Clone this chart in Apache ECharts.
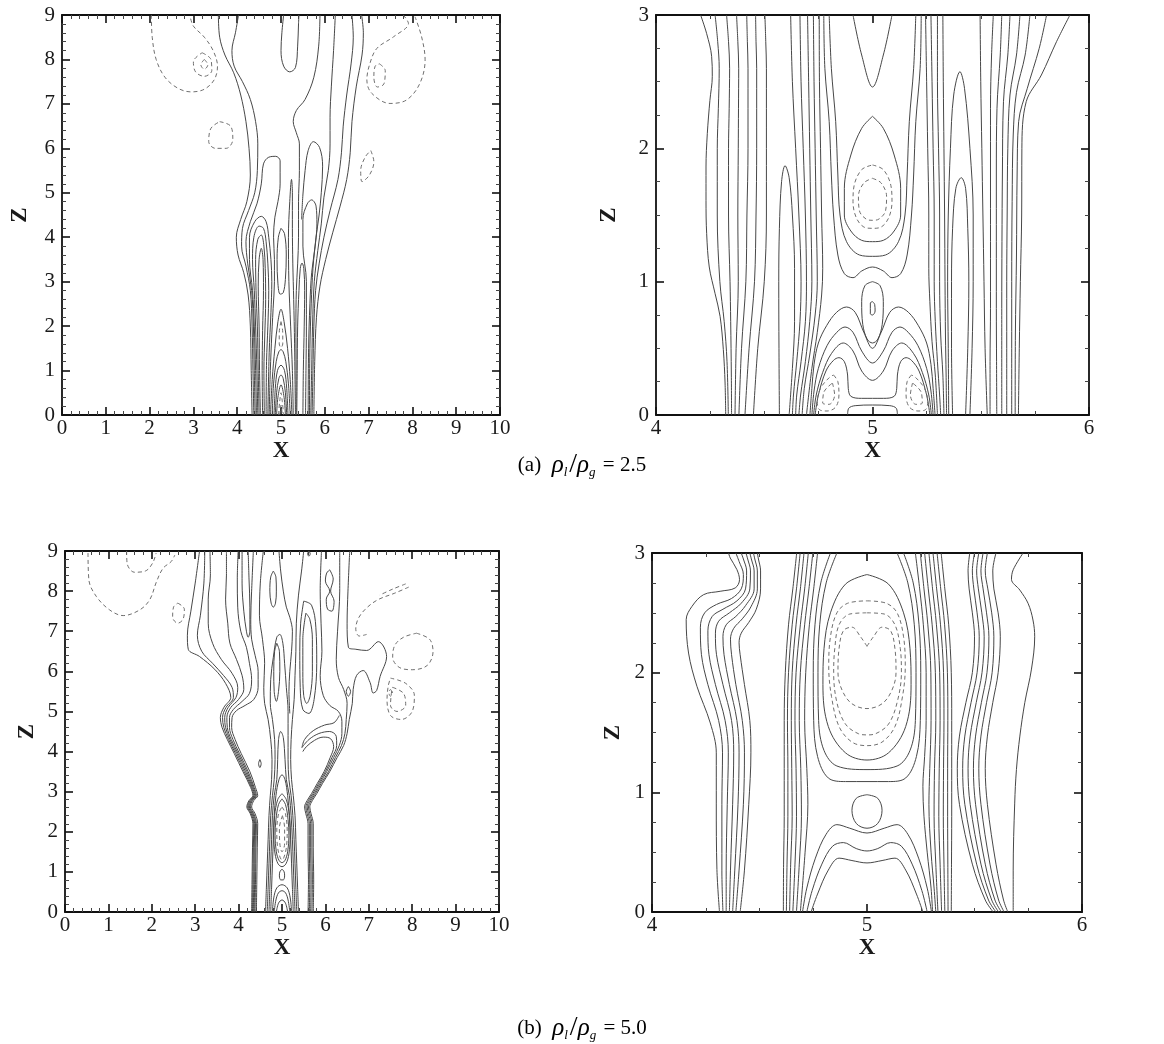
<!DOCTYPE html>
<html><head><meta charset="utf-8">
<script src="https://cdn.jsdelivr.net/npm/echarts@6/dist/echarts.min.js"></script>
<style>html,body{margin:0;padding:0;background:#fff}#c{width:1164px;height:1044px}</style>
</head><body><div id="c"></div>
<script>
// ---------- tick labels ----------
const xTicksWide = [0,1,2,3,4,5,6,7,8,9,10];
const zTicksWide = [0,1,2,3,4,5,6,7,8,9];
const xTicksZoom = [4,5,6];
const zTicksZoom = [0,1,2,3];
const captionA = '2.5';
const captionB = '5.0';

// ---------- panel (a) left : full domain ----------
const p1Solid = [
 [[3.57,9],[3.6,8.5],[3.72,8.1],[3.92,7.7],[4.08,7.2],[4.2,6.6],[4.27,6.0],[4.3,5.4],[4.22,4.8],[4.08,4.4],[3.98,4.0],[4.02,3.6],[4.15,3.2],[4.25,2.7],[4.3,2.0],[4.32,1.0],[4.34,0]],
 [[4.03,9],[3.96,8.6],[3.88,8.2],[3.93,7.85],[4.12,7.5],[4.3,7.1],[4.42,6.6],[4.47,6.1],[4.46,5.5],[4.4,5.0],[4.26,4.6],[4.12,4.2],[4.1,3.8],[4.2,3.35],[4.3,2.8],[4.34,2.0],[4.36,1.0],[4.38,0]],
 [[4.41,0],[4.39,1.0],[4.37,2.0],[4.33,2.8],[4.24,3.4],[4.2,3.9],[4.3,4.35],[4.45,4.75],[4.55,5.2],[4.6,5.65],[4.72,5.8],[4.88,5.82],[4.98,5.72],[4.98,5.2],[4.93,4.8],[4.86,4.45],[4.83,4.0],[4.85,3.5],[4.85,3.0],[4.82,2.4],[4.78,1.6],[4.75,0.8],[4.73,0]],
 [[4.44,0],[4.42,1],[4.39,2],[4.35,2.8],[4.28,3.5],[4.28,4.0],[4.4,4.35],[4.55,4.47],[4.66,4.35],[4.72,4.0],[4.77,3.5],[4.79,3.0],[4.77,2.3],[4.73,1.4],[4.7,0]],
 [[4.47,0],[4.45,1],[4.42,2],[4.39,2.8],[4.35,3.5],[4.38,4.0],[4.5,4.25],[4.6,4.2],[4.66,3.9],[4.7,3.4],[4.72,2.8],[4.7,2.0],[4.67,1.2],[4.66,0]],
 [[4.5,0],[4.48,1],[4.46,2],[4.43,2.8],[4.42,3.5],[4.47,3.95],[4.55,4.05],[4.61,3.8],[4.64,3.3],[4.65,2.6],[4.63,1.8],[4.61,1.0],[4.62,0]],
 [[4.53,0],[4.51,1],[4.5,2],[4.48,2.9],[4.5,3.5],[4.55,3.75],[4.59,3.5],[4.6,2.8],[4.58,1.9],[4.57,1.0],[4.58,0]],
 [[5.0,4.2],[5.08,4.08],[5.12,3.6],[5.1,3.05],[5.05,2.75],[4.98,2.72],[4.93,2.95],[4.91,3.5],[4.94,4.0],[5.0,4.2]],
 [[4.76,0],[4.8,0.8],[4.86,1.5],[4.93,2.1],[5.0,2.38],[5.07,2.1],[5.15,1.5],[5.21,0.8],[5.25,0]],
 [[4.8,0],[4.83,0.7],[4.89,1.2],[4.95,1.42],[5.0,1.47],[5.05,1.42],[5.11,1.2],[5.17,0.7],[5.21,0]],
 [[4.84,0],[4.87,0.6],[4.92,1.0],[5.0,1.12],[5.08,1.0],[5.13,0.6],[5.16,0]],
 [[4.87,0],[4.9,0.5],[4.95,0.82],[5.0,0.9],[5.05,0.82],[5.1,0.5],[5.13,0]],
 [[4.9,0],[4.93,0.4],[5.0,0.68],[5.07,0.4],[5.1,0]],
 [[5.28,0],[5.26,1.0],[5.22,2.0],[5.18,3.0],[5.17,4.0],[5.2,4.8],[5.24,5.3],[5.26,5.0],[5.26,4.2],[5.27,3.4],[5.29,2.6],[5.31,1.6],[5.32,0.8],[5.33,0]],
 [[5.36,0],[5.37,1],[5.38,2],[5.41,2.8],[5.44,3.3],[5.48,3.42],[5.52,3.3],[5.54,2.8],[5.53,2.0],[5.51,1.0],[5.5,0]],
 [[5.56,0],[5.57,1],[5.58,2],[5.58,3.0],[5.5,3.8],[5.5,4.4],[5.6,4.75],[5.7,4.84],[5.8,4.7],[5.82,4.3],[5.78,3.8],[5.7,3.2],[5.66,2.5],[5.63,1.5],[5.62,0]],
 [[5.345,0],[5.345,1],[5.34,2],[5.35,2.8],[5.38,3.4],[5.4,4.0],[5.4,4.8],[5.42,5.5],[5.42,6.1],[5.35,6.35],[5.28,6.6],[5.35,6.85],[5.55,7.1],[5.75,7.6],[5.86,8.3],[5.89,9]],
 [[5.47,4.4],[5.5,4.95],[5.55,5.5],[5.62,5.95],[5.74,6.15],[5.88,6.02],[5.95,5.6],[5.92,5.0],[5.87,4.5],[5.8,4.0],[5.73,3.3],[5.69,2.5],[5.66,1.5],[5.65,0]],
 [[6.24,9],[6.2,8.2],[6.15,7.4],[6.12,6.7],[6.12,6.1],[6.08,5.5],[5.98,4.9],[5.92,4.3],[5.84,3.7],[5.76,3.0],[5.72,2.0],[5.7,1.0],[5.68,0]],
 [[6.62,9],[6.65,8.5],[6.6,7.9],[6.5,7.2],[6.42,6.5],[6.38,5.9],[6.3,5.3],[6.12,4.6],[5.98,4.0],[5.87,3.4],[5.79,2.8],[5.75,2.0],[5.73,1.0],[5.71,0]],
 [[6.84,9],[6.88,8.6],[6.85,8.1],[6.72,7.4],[6.62,6.6],[6.58,5.9],[6.5,5.3],[6.35,4.7],[6.18,4.1],[6.02,3.5],[5.89,2.9],[5.81,2.2],[5.77,1.2],[5.75,0]],
 [[5.06,9],[5.02,8.6],[5.0,8.2],[5.06,7.85],[5.2,7.72],[5.33,7.82],[5.38,8.3],[5.4,8.8],[5.41,9]]
];
const p1Dashed = [
 [[2.04,9],[2.06,8.5],[2.15,8.0],[2.35,7.6],[2.65,7.35],[2.95,7.27],[3.25,7.33],[3.48,7.55],[3.55,7.85],[3.45,8.2],[3.25,8.5],[3.0,8.75],[2.93,8.95]],
 [[3.2,8.15],[3.4,8.0],[3.42,7.75],[3.25,7.62],[3.05,7.72],[3.0,7.95],[3.2,8.15]],
 [[3.25,8.0],[3.33,7.88],[3.25,7.78],[3.17,7.88],[3.25,8.0]],
 [[3.6,6.6],[3.85,6.5],[3.9,6.2],[3.75,6.0],[3.5,6.0],[3.35,6.15],[3.4,6.45],[3.6,6.6]],
 [[7.79,9],[7.91,8.81],[7.57,8.51],[7.19,8.25],[7.03,7.91],[6.96,7.54],[7.07,7.24],[7.49,7.01],[7.87,7.09],[8.17,7.46],[8.29,7.99],[8.21,8.51],[8.06,8.96]],
 [[7.25,7.9],[7.38,7.75],[7.35,7.45],[7.2,7.38],[7.12,7.6],[7.15,7.85],[7.25,7.9]],
 [[7.05,5.95],[7.12,5.7],[7.02,5.4],[6.85,5.25],[6.82,5.5],[6.92,5.8],[7.05,5.95]],
 [[5.0,2.1],[5.04,1.85],[5.04,1.6],[5.0,1.52],[4.96,1.6],[4.96,1.85],[5.0,2.1]],
 [[4.94,0],[4.97,0.3],[5.0,0.5],[5.03,0.3],[5.06,0]],
 [[4.97,0],[5.0,0.22],[5.03,0]]
];

// ---------- panel (a) right : zoom 4..6, 0..3 ----------
const p2Solid = [
 [[4.206,3],[4.234,2.86],[4.257,2.69],[4.26,2.54],[4.249,2.36],[4.237,2.11],[4.231,1.86],[4.231,1.61],[4.234,1.36],[4.246,1.11],[4.273,0.91],[4.296,0.74],[4.311,0.49],[4.319,0.24],[4.322,0]],
 [[4.273,3],[4.285,2.8],[4.292,2.6],[4.288,2.3],[4.283,2.0],[4.283,1.5],[4.295,1.0],[4.315,0.7],[4.328,0.4],[4.334,0]],
 [[4.326,3],[4.335,2.8],[4.34,2.6],[4.338,2.3],[4.335,2.0],[4.335,1.5],[4.342,1.0],[4.345,0.7],[4.348,0.3],[4.349,0]],
 [[4.372,3],[4.378,2.8],[4.382,2.6],[4.381,2.3],[4.38,2.0],[4.378,1.5],[4.38,1.0],[4.37,0.5],[4.365,0]],
 [[4.419,3],[4.422,2.8],[4.425,2.6],[4.425,2.0],[4.42,1.5],[4.415,1.0],[4.395,0.5],[4.383,0]],
 [[4.46,3],[4.462,2.8],[4.465,2.6],[4.465,2.0],[4.462,1.5],[4.455,1.0],[4.43,0.5],[4.411,0]],
 [[4.503,3],[4.507,2.8],[4.51,2.6],[4.51,2.0],[4.51,1.5],[4.5,1.0],[4.47,0.5],[4.45,0]],
 [[4.57,0],[4.568,0.5],[4.567,1.0],[4.57,1.4],[4.58,1.75],[4.596,1.87],[4.615,1.78],[4.63,1.5],[4.64,1.1],[4.64,0.7],[4.63,0.35],[4.615,0]],
 [[4.622,3],[4.63,2.5],[4.645,2.0],[4.66,1.5],[4.67,1.0],[4.665,0.7],[4.65,0.4],[4.635,0.15],[4.63,0]],
 [[4.665,3],[4.67,2.5],[4.68,2.0],[4.69,1.5],[4.695,1.0],[4.69,0.7],[4.67,0.4],[4.65,0.15],[4.645,0]],
 [[4.70,3],[4.705,2.5],[4.71,2.0],[4.715,1.5],[4.72,1.0],[4.71,0.7],[4.69,0.4],[4.668,0.15],[4.66,0]],
 [[4.727,3],[4.73,2.5],[4.735,2.0],[4.74,1.5],[4.745,1.0],[4.735,0.75],[4.71,0.45],[4.685,0.2],[4.675,0]],
 [[4.754,3],[4.755,2.5],[4.76,2.0],[4.765,1.5],[4.77,1.1],[4.765,0.9],[4.745,0.62],[4.72,0.35],[4.695,0]],
 [[4.91,3],[4.95,2.7],[5.0,2.46],[5.05,2.7],[5.09,3]],
 [[5.0,2.24],[5.05,2.15],[5.1,1.95],[5.13,1.7],[5.13,1.5],[5.1,1.38],[5.05,1.31],[5.0,1.3],[4.95,1.31],[4.9,1.38],[4.87,1.5],[4.87,1.7],[4.9,1.95],[4.95,2.15],[5.0,2.24]],
 [[4.8,3],[4.81,2.6],[4.83,2.2],[4.84,1.8],[4.85,1.5],[4.88,1.3],[4.94,1.2],[5.0,1.19],[5.06,1.2],[5.12,1.3],[5.15,1.5],[5.16,1.8],[5.17,2.2],[5.19,2.6],[5.2,3]],
 [[4.775,3],[4.78,2.6],[4.8,2.2],[4.81,1.8],[4.82,1.5],[4.84,1.2],[4.87,1.06],[4.91,1.03],[4.95,1.08],[5.0,1.11],[5.05,1.08],[5.09,1.03],[5.13,1.06],[5.16,1.2],[5.18,1.5],[5.19,1.8],[5.2,2.2],[5.22,2.6],[5.225,3]],
 [[5.0,1.0],[5.035,0.97],[5.05,0.85],[5.045,0.68],[5.025,0.57],[5.0,0.54],[4.975,0.57],[4.955,0.68],[4.95,0.85],[4.965,0.97],[5.0,1.0]],
 [[5.0,0.85],[5.01,0.83],[5.012,0.78],[5.0,0.75],[4.99,0.76],[4.99,0.84],[5.0,0.85]],
 [[4.711,0],[4.72,0.2],[4.73,0.38],[4.75,0.54],[4.788,0.67],[4.834,0.77],[4.88,0.81],[4.92,0.77],[4.96,0.62],[5.0,0.5],[5.04,0.62],[5.08,0.77],[5.12,0.81],[5.166,0.77],[5.212,0.67],[5.25,0.54],[5.27,0.38],[5.28,0.2],[5.289,0]],
 [[4.72,0],[4.73,0.18],[4.75,0.35],[4.79,0.52],[4.835,0.62],[4.873,0.66],[4.91,0.62],[4.95,0.48],[5.0,0.39],[5.05,0.48],[5.09,0.62],[5.127,0.66],[5.165,0.62],[5.21,0.52],[5.25,0.35],[5.27,0.18],[5.28,0]],
 [[4.728,0],[4.74,0.15],[4.77,0.32],[4.81,0.46],[4.865,0.54],[4.91,0.48],[4.95,0.33],[5.0,0.26],[5.05,0.33],[5.09,0.48],[5.135,0.54],[5.19,0.46],[5.23,0.32],[5.26,0.15],[5.272,0]],
 [[4.735,0],[4.75,0.15],[4.785,0.33],[4.82,0.41],[4.845,0.43],[4.87,0.4],[4.885,0.3],[4.888,0.2],[4.9,0.14],[4.95,0.125],[5.0,0.125],[5.05,0.125],[5.1,0.14],[5.112,0.2],[5.115,0.3],[5.13,0.4],[5.155,0.43],[5.18,0.41],[5.215,0.33],[5.25,0.15],[5.265,0]],
 [[4.885,0],[4.89,0.05],[4.92,0.07],[5.0,0.075],[5.08,0.07],[5.11,0.05],[5.115,0]],
 [[5.245,3],[5.25,2.5],[5.255,2.0],[5.26,1.5],[5.26,1.1],[5.265,0.85],[5.275,0.55],[5.29,0.3],[5.3,0]],
 [[5.27,3],[5.275,2.5],[5.28,2.0],[5.285,1.5],[5.285,1.0],[5.29,0.7],[5.3,0.4],[5.31,0.15],[5.315,0]],
 [[5.3,3],[5.3,2.5],[5.305,2.0],[5.31,1.5],[5.31,1.0],[5.315,0.6],[5.325,0.3],[5.33,0]],
 [[5.325,3],[5.327,2.5],[5.33,2.0],[5.333,1.5],[5.335,1.0],[5.337,0.6],[5.34,0.3],[5.342,0]],
 [[5.37,0],[5.365,0.5],[5.365,1.0],[5.37,1.4],[5.385,1.7],[5.41,1.78],[5.43,1.7],[5.44,1.4],[5.445,1.0],[5.44,0.5],[5.43,0]],
 [[5.352,0],[5.35,0.5],[5.347,1.0],[5.35,1.5],[5.36,2.0],[5.375,2.4],[5.404,2.575],[5.425,2.45],[5.45,2.0],[5.465,1.5],[5.465,1.0],[5.46,0.5],[5.45,0]],
 [[5.497,3],[5.5,2.5],[5.505,2.0],[5.51,1.5],[5.515,1.0],[5.52,0.5],[5.53,0]],
 [[5.558,3],[5.55,2.7],[5.545,2.3],[5.545,1.8],[5.545,1.3],[5.545,0.8],[5.543,0.4],[5.543,0]],
 [[5.597,3],[5.59,2.7],[5.575,2.3],[5.572,1.8],[5.572,1.3],[5.572,0.8],[5.573,0.4],[5.574,0]],
 [[5.635,3],[5.625,2.7],[5.605,2.35],[5.6,1.8],[5.598,1.3],[5.597,0.8],[5.597,0]],
 [[5.681,3],[5.665,2.7],[5.635,2.4],[5.625,2.0],[5.622,1.5],[5.62,1.0],[5.62,0.5],[5.62,0]],
 [[5.727,3],[5.705,2.7],[5.665,2.42],[5.65,2.1],[5.645,1.6],[5.643,1.0],[5.643,0.5],[5.643,0]],
 [[5.804,3],[5.77,2.75],[5.715,2.45],[5.675,2.2],[5.668,1.8],[5.665,1.2],[5.66,0.6],[5.659,0]],
 [[5.912,3],[5.85,2.8],[5.78,2.55],[5.71,2.35],[5.69,2.0],[5.689,1.5],[5.683,1.0],[5.678,0.5],[5.674,0]]
];
const p2Dashed = [
 [[5.0,1.875],[5.05,1.84],[5.085,1.72],[5.09,1.6],[5.075,1.48],[5.04,1.41],[5.0,1.4],[4.96,1.41],[4.925,1.48],[4.91,1.6],[4.915,1.72],[4.95,1.84],[5.0,1.875]],
 [[5.0,1.775],[5.04,1.74],[5.065,1.64],[5.06,1.53],[5.03,1.47],[5.0,1.46],[4.97,1.47],[4.94,1.53],[4.935,1.64],[4.96,1.74],[5.0,1.775]],
 [[4.82,0.3],[4.84,0.25],[4.845,0.15],[4.83,0.06],[4.79,0.03],[4.755,0.04],[4.745,0.1],[4.76,0.2],[4.8,0.28],[4.82,0.3]],
 [[4.815,0.24],[4.825,0.15],[4.8,0.08],[4.77,0.09],[4.775,0.17],[4.815,0.24]],
 [[5.18,0.3],[5.16,0.25],[5.155,0.15],[5.17,0.06],[5.21,0.03],[5.245,0.04],[5.255,0.1],[5.24,0.2],[5.2,0.28],[5.18,0.3]],
 [[5.185,0.24],[5.175,0.15],[5.2,0.08],[5.23,0.09],[5.225,0.17],[5.185,0.24]]
];

// ---------- panel (b) left : full domain ----------
const p3Solid = [
 [[4.3,0],[4.31,0.8],[4.32,1.6],[4.33,2.2],[4.27,2.45],[4.19,2.62],[4.24,2.78],[4.33,2.9],[4.28,3.1],[4.1,3.5],[3.9,3.95],[3.74,4.3],[3.62,4.6],[3.58,4.85],[3.66,5.1],[3.82,5.35],[3.7,5.7],[3.45,6.05],[3.1,6.37],[2.84,6.55],[2.82,6.9],[2.9,7.5],[3.0,8.2],[3.1,9]],
 [[4.32,0],[4.33,0.8],[4.34,1.6],[4.35,2.2],[4.29,2.45],[4.21,2.62],[4.26,2.78],[4.35,2.9],[4.3,3.1],[4.13,3.5],[3.93,3.95],[3.77,4.3],[3.66,4.6],[3.63,4.85],[3.71,5.1],[3.88,5.35],[3.85,5.6],[3.65,5.9],[3.4,6.2],[3.15,6.5],[3.05,6.9],[3.12,7.4],[3.2,8.2],[3.22,9]],
 [[4.34,0],[4.35,0.8],[4.36,1.6],[4.37,2.2],[4.31,2.45],[4.23,2.62],[4.28,2.78],[4.37,2.9],[4.32,3.1],[4.16,3.5],[3.96,3.95],[3.8,4.3],[3.7,4.6],[3.68,4.85],[3.76,5.1],[3.94,5.35],[3.98,5.6],[3.85,5.95],[3.6,6.3],[3.4,6.7],[3.3,7.2],[3.3,7.8],[3.35,8.4],[3.34,9]],
 [[4.36,0],[4.37,0.8],[4.38,1.6],[4.39,2.2],[4.33,2.45],[4.25,2.62],[4.3,2.78],[4.39,2.9],[4.34,3.1],[4.19,3.5],[3.99,3.95],[3.83,4.3],[3.74,4.6],[3.73,4.85],[3.82,5.1],[4.0,5.3],[4.12,5.55],[4.08,5.9],[3.95,6.3],[3.8,6.7],[3.75,7.2],[3.7,7.8],[3.72,8.4],[3.72,9]],
 [[4.38,0],[4.39,0.8],[4.4,1.6],[4.41,2.2],[4.35,2.45],[4.27,2.62],[4.32,2.78],[4.41,2.9],[4.36,3.1],[4.22,3.5],[4.02,3.95],[3.87,4.3],[3.79,4.6],[3.79,4.85],[3.88,5.05],[4.08,5.25],[4.25,5.45],[4.3,5.8],[4.25,6.2],[4.18,6.6],[4.05,7.0],[3.98,7.6],[3.97,8.3],[3.99,9]],
 [[4.41,0],[4.42,0.8],[4.43,1.6],[4.44,2.2],[4.38,2.45],[4.3,2.62],[4.35,2.78],[4.44,2.9],[4.39,3.1],[4.26,3.5],[4.06,3.95],[3.92,4.3],[3.84,4.6],[3.85,4.85],[3.95,5.02],[4.15,5.15],[4.35,5.3],[4.45,5.6],[4.45,6.0],[4.38,6.4],[4.3,6.8],[4.28,7.3],[4.3,8.0],[4.34,9]],
 [[4.08,9],[4.08,8.2],[4.12,7.5],[4.18,7.0],[4.22,6.85],[4.26,7.0],[4.26,7.6],[4.24,8.3],[4.22,9]],
 [[4.62,0],[4.64,0.6],[4.66,1.2],[4.68,1.8],[4.7,2.4],[4.73,2.9],[4.76,3.3],[4.77,3.8],[4.74,4.3],[4.68,4.8],[4.6,5.2],[4.58,5.6],[4.6,6.2],[4.55,6.8],[4.48,7.4],[4.5,8.2],[4.57,9]],
 [[4.66,0],[4.68,0.6],[4.7,1.2],[4.72,1.8],[4.74,2.4],[4.78,2.9],[4.82,3.3],[4.84,3.8],[4.83,4.3],[4.78,4.8],[4.73,5.2],[4.74,5.8],[4.8,6.35],[4.88,6.85],[4.95,6.92],[5.02,6.7],[5.06,6.2],[5.1,5.6],[5.14,5.0],[5.14,4.4],[5.14,3.8],[5.16,3.3],[5.21,2.9],[5.25,2.4],[5.28,1.8],[5.3,1.2],[5.32,0.6],[5.34,0]],
 [[4.7,0],[4.72,0.6],[4.74,1.2],[4.76,1.8],[4.78,2.4],[4.82,2.9],[4.88,3.3],[4.9,3.8],[4.92,4.3],[4.97,4.5],[5.03,4.35],[5.07,3.8],[5.1,3.3],[5.17,2.9],[5.21,2.4],[5.24,1.8],[5.26,1.2],[5.28,0.6],[5.3,0]],
 [[4.74,0],[4.76,0.6],[4.78,1.2],[4.8,1.8],[4.82,2.4],[4.86,2.9],[4.93,3.3],[5.0,3.42],[5.07,3.3],[5.13,2.9],[5.17,2.4],[5.2,1.8],[5.22,1.2],[5.24,0.6],[5.26,0]],
 [[5.0,2.95],[5.1,2.8],[5.17,2.4],[5.19,1.9],[5.16,1.45],[5.09,1.2],[5.0,1.13],[4.91,1.2],[4.84,1.45],[4.81,1.9],[4.83,2.4],[4.9,2.8],[5.0,2.95]],
 [[5.0,2.82],[5.08,2.68],[5.14,2.3],[5.16,1.9],[5.13,1.5],[5.07,1.29],[5.0,1.23],[4.93,1.29],[4.87,1.5],[4.84,1.9],[4.86,2.3],[4.92,2.68],[5.0,2.82]],
 [[5.0,1.07],[5.05,1.0],[5.06,0.9],[5.03,0.8],[4.97,0.8],[4.94,0.9],[4.95,1.0],[5.0,1.07]],
 [[4.78,0],[4.81,0.35],[4.88,0.6],[5.0,0.68],[5.12,0.6],[5.19,0.35],[5.22,0]],
 [[4.82,0],[4.86,0.3],[4.92,0.48],[5.0,0.53],[5.08,0.48],[5.14,0.3],[5.18,0]],
 [[4.87,0],[4.92,0.22],[5.0,0.3],[5.08,0.22],[5.13,0]],
 [[5.38,0],[5.36,0.6],[5.34,1.2],[5.32,1.8],[5.3,2.4],[5.26,2.9],[5.22,3.3],[5.2,3.8],[5.21,4.3],[5.24,4.8],[5.28,5.3],[5.3,5.9],[5.32,6.5],[5.33,7.2],[5.38,7.9],[5.45,8.5],[5.5,9]],
 [[4.88,6.7],[4.94,6.5],[4.95,6.0],[4.92,5.5],[4.87,5.25],[4.82,5.5],[4.81,6.0],[4.83,6.5],[4.88,6.7]],
 [[4.8,8.5],[4.86,8.35],[4.87,8.0],[4.85,7.7],[4.8,7.6],[4.75,7.7],[4.72,8.0],[4.74,8.35],[4.8,8.5]],
 [[4.93,9],[4.97,8.5],[5.03,8.0],[5.1,7.6],[5.18,7.35],[5.24,7.0],[5.22,6.5],[5.18,6.0],[5.16,5.5],[5.18,4.95]],
 [[5.5,7.75],[5.68,7.65],[5.78,7.1],[5.8,6.2],[5.74,5.3],[5.62,4.95],[5.48,5.05],[5.42,5.6],[5.41,6.5],[5.43,7.2],[5.5,7.75]],
 [[5.55,7.45],[5.64,7.3],[5.7,6.8],[5.7,6.0],[5.65,5.4],[5.57,5.2],[5.5,5.4],[5.48,6.0],[5.48,6.8],[5.55,7.45]],
 [[6.1,8.53],[6.18,8.3],[6.12,8.0],[6.2,7.75],[6.15,7.5],[6.05,7.55],[6.02,7.8],[6.1,8.0],[6.0,8.25],[6.03,8.45],[6.1,8.53]],
 [[6.53,5.62],[6.58,5.5],[6.53,5.38],[6.48,5.5],[6.53,5.62]],
 [[4.49,3.8],[4.52,3.7],[4.49,3.6],[4.46,3.7],[4.49,3.8]],
 [[5.62,9],[5.65,8.93],[5.62,8.87],[5.59,8.93],[5.62,9]],
 [[5.72,0],[5.73,0.8],[5.72,1.6],[5.72,2.2],[5.67,2.45],[5.64,2.62],[5.7,2.78],[5.8,2.95],[5.93,3.2],[6.1,3.5],[6.27,3.85],[6.42,4.15],[6.5,4.45],[6.55,4.8],[6.62,5.2],[6.64,5.55],[6.72,5.9],[6.87,6.02],[7.03,5.72],[7.1,5.46],[7.18,5.52],[7.26,5.87],[7.41,6.37],[7.22,6.74],[6.95,6.52],[6.7,6.55],[6.53,6.6],[6.5,7.2],[6.52,8.0],[6.56,9]],
 [[5.69,0],[5.7,0.8],[5.69,1.6],[5.69,2.2],[5.64,2.45],[5.61,2.62],[5.67,2.78],[5.77,2.95],[5.9,3.2],[6.07,3.5],[6.23,3.85],[6.37,4.15],[6.45,4.45],[6.48,4.8],[6.5,5.2],[6.42,5.55],[6.3,5.85],[6.25,6.3],[6.28,7.0],[6.33,8.0],[6.33,9]],
 [[5.66,0],[5.67,0.8],[5.66,1.6],[5.66,2.2],[5.61,2.45],[5.58,2.62],[5.64,2.78],[5.74,2.95],[5.87,3.2],[6.03,3.5],[6.19,3.85],[6.32,4.15],[6.38,4.45],[6.38,4.75],[6.3,5.0],[6.1,5.15],[5.95,5.4],[5.88,5.9],[5.92,6.5],[5.9,7.2],[5.88,8.0],[5.91,9]],
 [[5.63,0],[5.64,0.8],[5.63,1.6],[5.63,2.2],[5.58,2.45],[5.55,2.62],[5.61,2.78],[5.71,2.95],[5.84,3.2],[6.0,3.5],[6.15,3.85],[6.26,4.15],[6.25,4.38],[6.1,4.5],[5.85,4.45],[5.62,4.3],[5.46,4.1],[5.52,4.3],[5.72,4.52],[5.98,4.66],[6.2,4.72],[6.32,4.9]],
 [[5.6,0],[5.61,0.8],[5.6,1.6],[5.6,2.2],[5.55,2.45],[5.52,2.62],[5.58,2.78],[5.68,2.95],[5.81,3.2],[5.97,3.5],[6.11,3.85],[6.19,4.12],[6.12,4.32],[5.95,4.36],[5.75,4.28],[5.56,4.12],[5.48,4.0]]
];
const p3Dashed = [
 [[0.53,8.95],[0.55,8.28],[0.72,7.87],[1.03,7.53],[1.34,7.39],[1.72,7.53],[1.95,7.78],[2.11,8.24],[2.26,8.57],[2.45,8.74],[2.53,8.9]],
 [[1.42,9],[1.43,8.7],[1.6,8.47],[1.85,8.5],[2.02,8.7],[2.1,8.95]],
 [[2.6,7.7],[2.75,7.55],[2.72,7.3],[2.6,7.2],[2.48,7.35],[2.5,7.6],[2.6,7.7]],
 [[7.92,8.1],[7.6,7.95],[7.2,7.78],[6.92,7.55],[6.75,7.3],[6.7,7.05],[6.78,6.88],[6.95,6.92]],
 [[7.85,8.18],[7.55,8.05],[7.25,7.9]],
 [[8.1,6.95],[8.4,6.8],[8.48,6.5],[8.35,6.15],[8.0,6.04],[7.7,6.1],[7.55,6.35],[7.6,6.65],[7.8,6.85],[8.1,6.95]],
 [[7.5,5.83],[7.85,5.7],[8.05,5.4],[8.0,5.0],[7.75,4.8],[7.5,4.9],[7.42,5.3],[7.45,5.65],[7.5,5.83]],
 [[7.55,5.6],[7.8,5.45],[7.85,5.15],[7.65,5.0],[7.5,5.15],[7.52,5.45],[7.55,5.6]],
 [[7.5,5.55],[7.55,5.45],[7.5,5.38],[7.46,5.48],[7.5,5.55]],
 [[5.0,2.62],[5.08,2.45],[5.12,2.0],[5.1,1.6],[5.04,1.35],[5.0,1.3],[4.96,1.35],[4.9,1.6],[4.88,2.0],[4.92,2.45],[5.0,2.62]],
 [[5.01,2.4],[5.06,2.1],[5.06,1.7],[5.0,1.5],[4.95,1.7],[4.94,2.1],[5.01,2.4]]
];

// ---------- panel (b) right : zoom ----------
const p4Solid = [
 [[4.314,0],[4.302,0.354],[4.299,0.91],[4.299,1.33],[4.271,1.58],[4.209,1.886],[4.17,2.164],[4.159,2.443],[4.186,2.554],[4.24,2.652],[4.317,2.68],[4.387,2.708],[4.407,2.777],[4.395,2.861],[4.364,2.958],[4.356,3]],
 [[4.33,0],[4.325,0.35],[4.325,0.9],[4.328,1.33],[4.31,1.6],[4.26,1.9],[4.23,2.15],[4.225,2.38],[4.245,2.5],[4.3,2.57],[4.37,2.62],[4.415,2.7],[4.425,2.82],[4.405,2.93],[4.39,3]],
 [[4.345,0],[4.345,0.35],[4.35,0.9],[4.355,1.33],[4.34,1.6],[4.295,1.9],[4.265,2.15],[4.26,2.35],[4.28,2.47],[4.33,2.53],[4.395,2.6],[4.435,2.7],[4.44,2.85],[4.425,2.95],[4.415,3]],
 [[4.36,0],[4.365,0.35],[4.375,0.9],[4.38,1.33],[4.37,1.6],[4.33,1.9],[4.3,2.15],[4.295,2.33],[4.31,2.43],[4.36,2.5],[4.415,2.58],[4.455,2.7],[4.458,2.85],[4.445,2.95],[4.437,3]],
 [[4.375,0],[4.385,0.35],[4.4,0.9],[4.405,1.33],[4.395,1.6],[4.36,1.9],[4.335,2.15],[4.33,2.3],[4.345,2.4],[4.39,2.47],[4.435,2.56],[4.475,2.7],[4.475,2.85],[4.462,2.95],[4.455,3]],
 [[4.39,0],[4.405,0.35],[4.425,0.9],[4.43,1.33],[4.42,1.6],[4.39,1.9],[4.37,2.15],[4.365,2.28],[4.38,2.37],[4.42,2.45],[4.46,2.55],[4.49,2.7],[4.49,2.85],[4.478,2.95],[4.472,3]],
 [[4.41,0],[4.43,0.35],[4.45,0.9],[4.46,1.33],[4.455,1.6],[4.43,1.9],[4.41,2.15],[4.405,2.25],[4.415,2.33],[4.45,2.42],[4.485,2.53],[4.505,2.7],[4.505,2.85],[4.495,2.95],[4.49,3]],
 [[4.673,3],[4.655,2.7],[4.635,2.4],[4.62,2.0],[4.615,1.6],[4.615,1.2],[4.615,0.8],[4.612,0.4],[4.611,0]],
 [[4.689,3],[4.672,2.7],[4.652,2.4],[4.635,2.0],[4.63,1.6],[4.632,1.2],[4.632,0.8],[4.628,0.4],[4.625,0]],
 [[4.707,3],[4.69,2.7],[4.67,2.4],[4.652,2.0],[4.648,1.6],[4.65,1.2],[4.652,0.8],[4.645,0.4],[4.64,0]],
 [[4.727,3],[4.71,2.7],[4.69,2.4],[4.67,2.0],[4.665,1.6],[4.67,1.2],[4.672,0.8],[4.665,0.4],[4.655,0]],
 [[4.748,3],[4.73,2.7],[4.71,2.4],[4.69,2.0],[4.685,1.6],[4.692,1.2],[4.695,0.8],[4.685,0.4],[4.672,0]],
 [[4.77,3],[4.752,2.7],[4.732,2.4],[4.715,2.0],[4.71,1.6],[4.72,1.2],[4.725,0.9],[4.712,0.5],[4.69,0]],
 [[5.0,2.82],[5.1,2.74],[5.17,2.5],[5.2,2.2],[5.205,1.9],[5.18,1.55],[5.1,1.33],[5.0,1.27],[4.9,1.33],[4.82,1.55],[4.795,1.9],[4.8,2.2],[4.83,2.5],[4.9,2.74],[5.0,2.82]],
 [[4.86,3],[4.81,2.75],[4.78,2.4],[4.772,2.0],[4.775,1.6],[4.8,1.35],[4.86,1.22],[5.0,1.19],[5.14,1.22],[5.2,1.35],[5.225,1.6],[5.228,2.0],[5.22,2.4],[5.19,2.75],[5.14,3]],
 [[4.83,3],[4.785,2.75],[4.758,2.4],[4.75,2.0],[4.752,1.6],[4.77,1.3],[4.82,1.12],[4.9,1.09],[5.0,1.09],[5.1,1.09],[5.18,1.12],[5.23,1.3],[5.248,1.6],[5.25,2.0],[5.242,2.4],[5.215,2.75],[5.17,3]],
 [[5.0,0.98],[5.05,0.95],[5.07,0.85],[5.05,0.74],[5.0,0.7],[4.95,0.74],[4.93,0.85],[4.95,0.95],[5.0,0.98]],
 [[4.7,0],[4.72,0.2],[4.76,0.45],[4.81,0.65],[4.86,0.73],[4.92,0.7],[5.0,0.66],[5.08,0.7],[5.14,0.73],[5.19,0.65],[5.24,0.45],[5.28,0.2],[5.3,0]],
 [[4.72,0],[4.745,0.18],[4.79,0.4],[4.84,0.55],[4.89,0.58],[4.95,0.53],[5.0,0.51],[5.05,0.53],[5.11,0.58],[5.16,0.55],[5.21,0.4],[5.255,0.18],[5.28,0]],
 [[4.74,0],[4.77,0.15],[4.82,0.35],[4.87,0.45],[4.93,0.43],[5.0,0.41],[5.07,0.43],[5.13,0.45],[5.18,0.35],[5.23,0.15],[5.26,0]],
 [[5.225,3],[5.245,2.7],[5.262,2.4],[5.275,2.0],[5.275,1.6],[5.268,1.3],[5.26,1.05],[5.265,0.8],[5.28,0.5],[5.298,0.2],[5.305,0]],
 [[5.248,3],[5.265,2.7],[5.283,2.4],[5.297,2.0],[5.298,1.6],[5.292,1.2],[5.288,0.9],[5.298,0.5],[5.312,0.2],[5.32,0]],
 [[5.268,3],[5.285,2.7],[5.303,2.4],[5.318,2.0],[5.32,1.6],[5.314,1.2],[5.312,0.8],[5.32,0.4],[5.33,0]],
 [[5.288,3],[5.305,2.7],[5.323,2.4],[5.338,2.0],[5.34,1.6],[5.336,1.2],[5.334,0.8],[5.34,0.4],[5.347,0]],
 [[5.307,3],[5.324,2.7],[5.342,2.4],[5.356,2.0],[5.358,1.6],[5.356,1.2],[5.355,0.8],[5.358,0.4],[5.362,0]],
 [[5.326,3],[5.343,2.7],[5.361,2.4],[5.374,2.0],[5.376,1.6],[5.375,1.2],[5.375,0.8],[5.376,0.4],[5.377,0]],
 [[5.345,3],[5.362,2.7],[5.38,2.4],[5.392,2.0],[5.394,1.6],[5.394,1.2],[5.394,0.8],[5.393,0.4],[5.392,0]],
 [[5.478,3],[5.47,2.85],[5.475,2.7],[5.49,2.5],[5.5,2.3],[5.49,2.0],[5.46,1.75],[5.43,1.47],[5.42,1.2],[5.43,0.9],[5.49,0.4],[5.55,0.1],[5.587,0]],
 [[5.5,3],[5.49,2.85],[5.497,2.7],[5.512,2.5],[5.522,2.3],[5.512,2.0],[5.484,1.75],[5.455,1.47],[5.445,1.2],[5.455,0.9],[5.51,0.4],[5.565,0.1],[5.6,0]],
 [[5.52,3],[5.51,2.85],[5.518,2.7],[5.534,2.5],[5.545,2.3],[5.535,2.0],[5.508,1.75],[5.48,1.47],[5.47,1.2],[5.48,0.9],[5.53,0.4],[5.58,0.1],[5.612,0]],
 [[5.54,3],[5.53,2.85],[5.54,2.7],[5.556,2.5],[5.567,2.3],[5.558,2.0],[5.532,1.75],[5.505,1.47],[5.495,1.2],[5.505,0.9],[5.55,0.4],[5.595,0.1],[5.625,0]],
 [[5.56,3],[5.55,2.85],[5.562,2.7],[5.58,2.5],[5.59,2.3],[5.582,2.0],[5.556,1.75],[5.53,1.47],[5.52,1.2],[5.53,0.9],[5.572,0.4],[5.612,0.1],[5.638,0]],
 [[5.6,3],[5.585,2.85],[5.59,2.7],[5.61,2.5],[5.62,2.3],[5.61,2.0],[5.585,1.75],[5.56,1.47],[5.55,1.2],[5.56,0.9],[5.6,0.4],[5.635,0.1],[5.655,0]],
 [[5.726,3],[5.68,2.86],[5.672,2.78],[5.711,2.69],[5.749,2.58],[5.772,2.44],[5.78,2.3],[5.765,2.03],[5.734,1.75],[5.711,1.47],[5.695,1.19],[5.687,0.91],[5.68,0.35],[5.68,0]]
];
const p4Dashed = [
 [[5.0,2.6],[5.09,2.58],[5.14,2.5],[5.17,2.3],[5.178,2.05],[5.165,1.8],[5.13,1.55],[5.07,1.42],[5.0,1.39],[4.93,1.42],[4.87,1.55],[4.835,1.8],[4.822,2.05],[4.83,2.3],[4.86,2.5],[4.91,2.58],[5.0,2.6]],
 [[5.0,2.5],[5.08,2.49],[5.13,2.4],[5.155,2.2],[5.16,2.0],[5.14,1.75],[5.1,1.57],[5.04,1.49],[5.0,1.48],[4.96,1.49],[4.9,1.57],[4.86,1.75],[4.845,2.0],[4.85,2.2],[4.87,2.4],[4.92,2.49],[5.0,2.5]],
 [[5.0,2.22],[5.03,2.3],[5.07,2.38],[5.11,2.35],[5.13,2.2],[5.135,2.0],[5.115,1.85],[5.07,1.74],[5.0,1.7],[4.93,1.74],[4.885,1.85],[4.865,2.0],[4.87,2.2],[4.89,2.35],[4.93,2.38],[4.97,2.3],[5.0,2.22]]
];

// ---------- layout ----------
const FONT = '"Liberation Serif","Times New Roman",serif';
const grids = [
 {left:62, top:15, width:438, height:400},
 {left:656, top:15, width:433, height:400},
 {left:65, top:551, width:434, height:361},
 {left:652, top:553, width:430, height:359}
];
const ranges = [
 {x:[xTicksWide[0], xTicksWide[xTicksWide.length-1]], y:[zTicksWide[0], zTicksWide[zTicksWide.length-1]], minor:5},
 {x:[xTicksZoom[0], xTicksZoom[xTicksZoom.length-1]], y:[zTicksZoom[0], zTicksZoom[zTicksZoom.length-1]], minor:4},
 {x:[xTicksWide[0], xTicksWide[xTicksWide.length-1]], y:[zTicksWide[0], zTicksWide[zTicksWide.length-1]], minor:5},
 {x:[xTicksZoom[0], xTicksZoom[xTicksZoom.length-1]], y:[zTicksZoom[0], zTicksZoom[zTicksZoom.length-1]], minor:4}
];
const zNameGap = [30, 35, 26, 27];
const xNameGap = [18, 18, 20, 20];

const xAxes = [], yAxes = [];
ranges.forEach((r, gi) => {
  const common = {
    gridIndex: gi, type: 'value', interval: 1,
    axisLine: {show: true, onZero: false, lineStyle: {color: '#111', width: 1.8}},
    axisTick: {show: true, inside: true, length: 8, lineStyle: {color: '#111', width: 1.6}},
    minorTick: {show: true, splitNumber: r.minor, length: 4, lineStyle: {color: '#444', width: 1}},
    splitLine: {show: false}, minorSplitLine: {show: false}
  };
  const xl = {show: true, margin: 3, fontFamily: FONT, fontSize: 21, color: '#1a1a1a', showMinLabel: true, showMaxLabel: true};
  const yl = {show: true, margin: 7, fontFamily: FONT, fontSize: 21, color: '#1a1a1a', showMinLabel: true, showMaxLabel: true};
  const nameStyle = {fontFamily: FONT, fontWeight: 'bold', fontSize: 23, color: '#1a1a1a'};
  xAxes.push(Object.assign({}, common, {min: r.x[0], max: r.x[1], position: 'bottom', axisLabel: xl,
    name: 'X', nameLocation: 'middle', nameGap: xNameGap[gi], nameTextStyle: nameStyle}));
  xAxes.push(Object.assign({}, common, {min: r.x[0], max: r.x[1], position: 'top', axisLabel: {show: false}}));
  yAxes.push(Object.assign({}, common, {min: r.y[0], max: r.y[1], position: 'left', axisLabel: yl,
    name: 'Z', nameLocation: 'middle', nameRotate: 90, nameGap: zNameGap[gi], nameTextStyle: nameStyle}));
  yAxes.push(Object.assign({}, common, {min: r.y[0], max: r.y[1], position: 'right', axisLabel: {show: false}}));
});

function mk(lines, gi, dashed) {
  return lines.map(pts => ({
    type: 'line', xAxisIndex: 2*gi, yAxisIndex: 2*gi, data: pts,
    showSymbol: false, symbol: 'none', smooth: 0.35, silent: true, animation: false, clip: true,
    lineStyle: dashed ? {color: '#707070', width: 1, type: [4, 3]} : {color: '#474747', width: 1}
  }));
}
const series = [].concat(
  mk(p1Solid, 0, false), mk(p1Dashed, 0, true),
  mk(p2Solid, 1, false), mk(p2Dashed, 1, true),
  mk(p3Solid, 2, false), mk(p3Dashed, 2, true),
  mk(p4Solid, 3, false), mk(p4Dashed, 3, true)
);

function caption(tag, val, y) {
  return {
    type: 'text', x: 582, y: y, silent: true,
    style: {
      text: '{a|(' + tag + ')}{g|  }{r|ρ}{s|l}{sl|/}{r|ρ}{s|g}{a| = ' + val + '}',
      align: 'center', verticalAlign: 'middle',
      rich: {
        a: {fontFamily: FONT, fontSize: 21, color: '#1a1a1a'},
        g: {fontFamily: FONT, fontSize: 21},
        r: {fontFamily: FONT, fontStyle: 'italic', fontSize: 25, color: '#1a1a1a'},
        sl: {fontFamily: FONT, fontSize: 28, color: '#1a1a1a'},
        s: {fontFamily: FONT, fontStyle: 'italic', fontSize: 13, color: '#1a1a1a', padding: [16, 2, 0, 0]}
      }
    }
  };
}

const chart = echarts.init(document.getElementById('c'), null, {renderer: 'canvas'});
chart.setOption({
  animation: false,
  backgroundColor: '#ffffff',
  grid: grids,
  xAxis: xAxes,
  yAxis: yAxes,
  series: series,
  graphic: [caption('a', captionA, 465), caption('b', captionB, 1028)]
});
</script>
</body></html>
